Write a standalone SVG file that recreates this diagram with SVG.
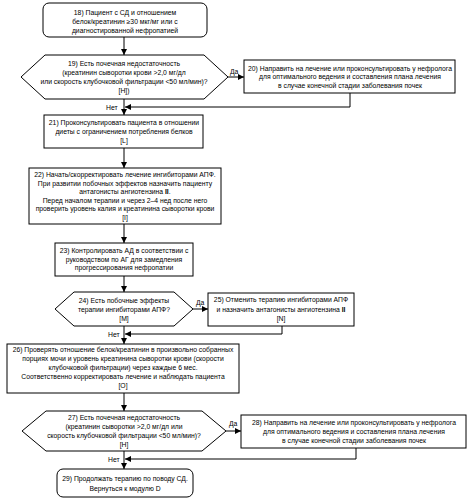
<svg xmlns="http://www.w3.org/2000/svg" width="476" height="502" viewBox="0 0 476 502">
<defs>
<marker id="ah" viewBox="0 0 6 6" refX="6" refY="3" markerWidth="6" markerHeight="6" markerUnits="userSpaceOnUse" orient="auto">
<path d="M0,0 L6,3 L0,6 Z" fill="#000"/>
</marker>
<style>
.n{fill:#fff;stroke:#000;stroke-width:1}
.t{font-family:"Liberation Sans",Arial,sans-serif;font-size:6.8px;fill:#000;text-anchor:middle}
.l{font-family:"Liberation Sans",Arial,sans-serif;font-size:6.8px;fill:#000}
.c{fill:none;stroke:#000;stroke-width:1;marker-end:url(#ah)}
</style>
</defs>
<rect width="476" height="502" fill="#fff"/>
<g id="connectors">
<line class="c" x1="124" y1="37" x2="124" y2="55"/>
<line class="c" x1="228" y1="77" x2="244" y2="77"/>
<polyline class="c" points="350,93 350,107 125,107"/>
<line class="c" x1="124" y1="99" x2="124" y2="115"/>
<line class="c" x1="124" y1="148" x2="124" y2="168"/>
<line class="c" x1="124" y1="224" x2="124" y2="243"/>
<line class="c" x1="124" y1="276" x2="124" y2="292"/>
<line class="c" x1="193" y1="309" x2="208" y2="309"/>
<polyline class="c" points="282,326 282,334 125,334"/>
<line class="c" x1="124" y1="326" x2="124" y2="344"/>
<line class="c" x1="124" y1="393" x2="124" y2="411"/>
<line class="c" x1="226" y1="431" x2="241" y2="431"/>
<polyline class="c" points="356,448 356,459 125,459"/>
<line class="c" x1="124" y1="451" x2="124" y2="469"/>
<text class="l" x="230" y="74">Да</text>
<text class="l" x="196" y="305">Да</text>
<text class="l" x="229" y="426">Да</text>
<text class="l" x="106" y="109.5">Нет</text>
<text class="l" x="108" y="336.5">Нет</text>
<text class="l" x="108" y="461.5">Нет</text>
</g>
<g id="n18">
<rect class="n" x="43" y="3" width="164" height="34" rx="6"/>
<text class="t" x="125" y="15">18) Пациент с СД и отношением</text>
<text class="t" x="125" y="24">белок/креатинин ≥30 мкг/мг или с</text>
<text class="t" x="125" y="33">диагностированной нефропатией</text>
</g>
<g id="n19">
<polygon class="n" points="21,77 45,55 204,55 228,77 204,99 45,99"/>
<text class="t" x="124" y="66">19) Есть почечная недостаточность</text>
<text class="t" x="124" y="75">(креатинин сыворотки крови &gt;2,0 мг/дл</text>
<text class="t" x="124" y="84">или скорость клубочковой фильтрации &lt;50 мл/мин)?</text>
<text class="t" x="124" y="93">[H])</text>
</g>
<g id="n20">
<rect class="n" x="244" y="60" width="211" height="33"/>
<text class="t" x="350" y="70.5">20) Направить на лечение или проконсультировать у нефролога</text>
<text class="t" x="350" y="79">для оптимального ведения и составления плана лечения</text>
<text class="t" x="350" y="87.5">в случае конечной стадии заболевания почек</text>
</g>
<g id="n21">
<rect class="n" x="44" y="115" width="159" height="33"/>
<text class="t" x="124" y="125">21) Проконсультировать пациента в отношении</text>
<text class="t" x="124" y="134">диеты с ограничением потребления белков</text>
<text class="t" x="124" y="143">[L]</text>
</g>
<g id="n22">
<rect class="n" x="29" y="168" width="192" height="56"/>
<text class="t" x="125" y="177">22) Начать/скорректировать лечение ингибиторами АПФ.</text>
<text class="t" x="125" y="185.6">При развитии побочных эффектов назначить пациенту</text>
<text class="t" x="125" y="194.2">антагонисты ангиотензина <tspan font-weight="bold">II</tspan>.</text>
<text class="t" x="125" y="202.8">Перед началом терапии и через 2–4 нед после него</text>
<text class="t" x="125" y="211.4">проверить уровень калия и креатинина сыворотки крови</text>
<text class="t" x="125" y="220">[I]</text>
</g>
<g id="n23">
<rect class="n" x="55" y="243" width="138" height="33"/>
<text class="t" x="124" y="252.5">23) Контролировать АД в соответствии с</text>
<text class="t" x="124" y="261.5">руководством по АГ для замедления</text>
<text class="t" x="124" y="270">прогрессирования нефропатии</text>
</g>
<g id="n24">
<polygon class="n" points="55,309 74,292 174,292 193,309 174,326 74,326"/>
<text class="t" x="124" y="302.5">24) Есть побочные эффекты</text>
<text class="t" x="124" y="311.5">терапии ингибиторами АПФ?</text>
<text class="t" x="124" y="320.5">[M]</text>
</g>
<g id="n25">
<rect class="n" x="208" y="293" width="146" height="33"/>
<text class="t" x="281" y="302">25) Отменить терапию ингибиторами АПФ</text>
<text class="t" x="281" y="311.5">и назначить антагонисты ангиотензина <tspan font-weight="bold">II</tspan></text>
<text class="t" x="281" y="321">[N]</text>
</g>
<g id="n26">
<rect class="n" x="7" y="344" width="232" height="49"/>
<text class="t" x="123" y="352">26) Проверять отношение белок/креатинин в произвольно собранных</text>
<text class="t" x="123" y="361">порциях мочи и уровень креатинина сыворотки крови (скорости</text>
<text class="t" x="123" y="370">клубочковой фильтрации) через каждые 6 мес.</text>
<text class="t" x="123" y="379">Соответственно корректировать лечение и наблюдать пациента</text>
<text class="t" x="123" y="388">[O]</text>
</g>
<g id="n27">
<polygon class="n" points="22,431 46,411 202,411 226,431 202,451 46,451"/>
<text class="t" x="124" y="420">27) Есть почечная недостаточность</text>
<text class="t" x="124" y="429">(креатинин сыворотки &gt;2,0 мг/дл или</text>
<text class="t" x="124" y="438">скорость клубочковой фильтрации &lt;50 мл/мин)?</text>
<text class="t" x="124" y="447">[H]</text>
</g>
<g id="n28">
<rect class="n" x="241" y="415" width="225" height="33"/>
<text class="t" x="354" y="425">28) Направить на лечение или проконсультировать у нефролога</text>
<text class="t" x="354" y="434">для оптимального ведения и составления плана лечения</text>
<text class="t" x="354" y="443">в случае конечной стадии заболевания почек</text>
</g>
<g id="n29">
<rect class="n" x="57" y="469" width="136" height="28" rx="6"/>
<text class="t" x="125" y="481">29) Продолжать терапию по поводу СД.</text>
<text class="t" x="125" y="490.5">Вернуться к модулю D</text>
</g>
</svg>
